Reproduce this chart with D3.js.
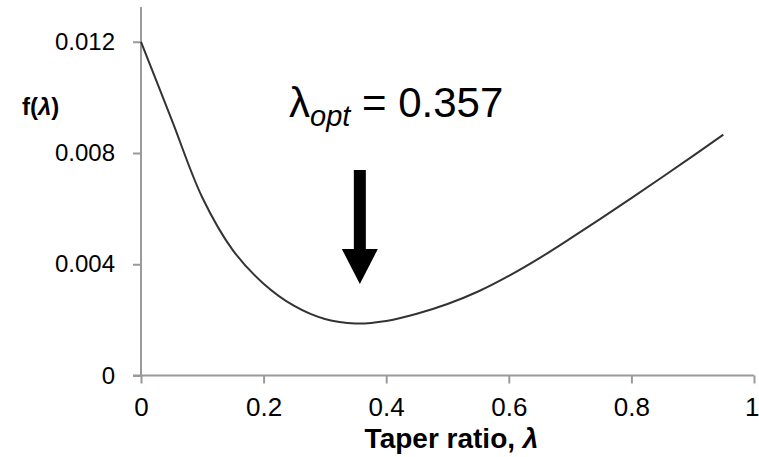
<!DOCTYPE html>
<html lang="en">
<head>
<meta charset="utf-8">
<title>Taper ratio</title>
<script src="https://cdn.jsdelivr.net/npm/d3@7"></script>
<style>
  body { margin: 0; background: #fff; }
  text { font-family: "Liberation Sans", Arial, sans-serif; fill: #000; }
</style>
</head>
<body>
<div id="chart"></div>
<script type="text/javascript">
  // taper ratio values and f(lambda)
  var lambdas = [0, 0.05, 0.10, 0.15, 0.20, 0.25, 0.30, 0.35, 0.40, 0.45, 0.50,
                 0.55, 0.60, 0.65, 0.70, 0.75, 0.80, 0.85, 0.90, 0.95];
  var fValues = [0.0120, 0.0092, 0.0064, 0.0045, 0.0033, 0.00250, 0.00203, 0.00187, 0.00196, 0.00222, 0.00257,
                 0.00302, 0.00358, 0.00422, 0.00492, 0.00564, 0.00638, 0.00713, 0.00789, 0.00866];
  var xTicks = [0, 0.2, 0.4, 0.6, 0.8, 1];
  var yTicks = [0, 0.004, 0.008, 0.012];
  var lambdaOpt = 0.357;

  var width = 759, height = 457;

  var svg = d3.select("#chart")
    .append("svg")
    .attr("width", width)
    .attr("height", height);

  var x = d3.scaleLinear().domain([0, 1]).range([141, 754]);
  var y = d3.scaleLinear().domain([0, 0.01325]).range([375.5, 7]);

  // y axis
  var yAxis = svg.append("g")
    .attr("transform", "translate(" + x(0) + ",0)")
    .call(d3.axisLeft(y).tickValues(yTicks).tickSize(8).tickPadding(18)
      .tickFormat(function(d) { return d === 0 ? "0" : d3.format(".3f")(d); }));
  yAxis.selectAll("text").style("font-size", "24px");

  // x axis
  var xAxis = svg.append("g")
    .attr("transform", "translate(0," + y(0) + ")")
    .call(d3.axisBottom(x).tickValues(xTicks).tickSize(8).tickPadding(14)
      .tickFormat(function(d) { return d === 0 || d === 1 ? d3.format("d")(d) : d3.format(".1f")(d); }));
  xAxis.selectAll("text").style("font-size", "26px");
  // keep the last label inside the picture
  xAxis.selectAll(".tick text").filter(function(d) { return d === 1; })
    .attr("text-anchor", "end").attr("dx", 5);

  svg.selectAll(".domain, .tick line")
    .attr("stroke", "#9a9a9a")
    .attr("stroke-width", 2);
  // no end caps on the domain paths
  yAxis.select(".domain").attr("d", "M0," + y.range()[1] + "V" + y(0));
  xAxis.select(".domain").attr("d", "M" + (x(0) - 8) + ",0H" + x(1));

  // curve
  var data = lambdas.map(function(l, i) { return { l: l, f: fValues[i] }; });
  var line = d3.line()
    .x(function(d) { return x(d.l); })
    .y(function(d) { return y(d.f); })
    .curve(d3.curveCatmullRom.alpha(0.5));

  svg.append("path")
    .datum(data)
    .attr("d", line)
    .attr("fill", "none")
    .attr("stroke", "#333")
    .attr("stroke-width", 2);

  // axis titles
  svg.append("text")
    .attr("x", (x(0) + x(1)) / 2 + 4)
    .attr("y", 448)
    .attr("text-anchor", "middle")
    .style("font-size", "28px")
    .style("font-weight", "bold")
    .text("Taper ratio, ")
    .append("tspan")
    .style("font-style", "italic")
    .text("λ");

  var yl = svg.append("text")
    .attr("x", 22)
    .attr("y", 115)
    .style("font-size", "24px")
    .style("font-weight", "bold");
  yl.append("tspan").text("f(");
  yl.append("tspan").style("font-style", "italic").text("λ");
  yl.append("tspan").text(")");

  // annotation: lambda_opt label and arrow
  var ann = svg.append("text")
    .attr("x", 289)
    .attr("y", 117)
    .style("font-size", "42px");
  ann.append("tspan").text("λ");
  ann.append("tspan").attr("dy", 9).style("font-size", "29px").style("font-style", "italic").text("opt");
  ann.append("tspan").attr("dy", -9).text(" = " + lambdaOpt);

  var ax = x(lambdaOpt);
  svg.append("rect")
    .attr("x", ax - 6)
    .attr("y", 170)
    .attr("width", 12)
    .attr("height", 82)
    .attr("fill", "#000");
  svg.append("path")
    .attr("d", "M" + (ax - 18) + ",249L" + (ax + 18) + ",249L" + ax + ",284Z")
    .attr("fill", "#000");
</script>
</body>
</html>
